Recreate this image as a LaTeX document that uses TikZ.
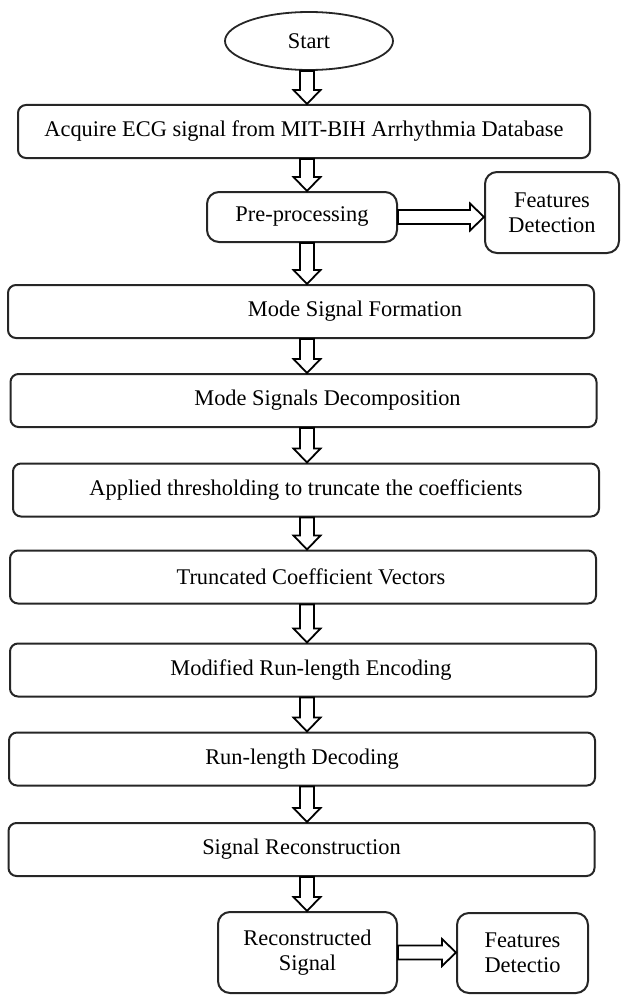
\documentclass[tikz,border=0pt]{standalone}
\usepackage{fontspec}
\setmainfont{Liberation Serif}
\usetikzlibrary{shapes,calc}

\begin{document}
\begin{tikzpicture} [
                x=0.5pt, y=-0.5pt,
                font=\fontsize{11.2}{12.5}\selectfont,
                boxline/.style = {draw=black!85},
                terminal/.style = {ellipse, boxline, line width=0.9pt, minimum width=84pt, minimum height=29pt, inner sep=0pt},
                process/.style = {rectangle, rounded corners=4pt, boxline, line width=1pt, minimum width=293pt, minimum height=26.5pt, inner sep=0pt},
                small process/.style = {process, rounded corners=6pt, align=center},
                hollow arrow/.style = {draw=black, fill=white, line width=0.9pt},
                down arrow/.style = {hollow arrow,
                    to path={let \p1=(\tikztostart), \p2=(\tikztotarget) in
                    (\x1-3.5pt,\y1) -- (\x1-3.5pt,\y2+7pt) -- (\x1-6.75pt,\y2+7pt) -- (\x1,\y2)
                    -- (\x1+6.75pt,\y2+7pt) -- (\x1+3.5pt,\y2+7pt) -- (\x1+3.5pt,\y1) -- cycle}},
                right arrow/.style = {hollow arrow,
                    to path={let \p1=(\tikztostart), \p2=(\tikztotarget) in
                    (\x1,\y1-3.5pt) -- (\x2-7pt,\y1-3.5pt) -- (\x2-7pt,\y1-6.75pt) -- (\x2,\y1)
                    -- (\x2-7pt,\y1+6.75pt) -- (\x2-7pt,\y1+3.5pt) -- (\x1,\y1+3.5pt) -- cycle}}
            ]
            \useasboundingbox (0,0) rectangle (621,995);
        % First we draw the start and the top steps
            \node[terminal] (start) at (309,41) {Start};
            \node[process, minimum width=286pt] (acquire) at (304,131.5) {Acquire ECG signal from MIT-BIH Arrhythmia Database};
            \node[small process, minimum width=95pt, minimum height=25pt] (pre) at (302,217) {Pre-processing};
            \node[small process, minimum width=67pt, minimum height=40.5pt] (feat1) at (552,212.5) {Features\\Detection};
        % The wide steps of the main column
            \foreach \pos/\name/\txt in {
                {(301,311.5)/msf/{\hspace*{54pt}Mode Signal Formation}},
                {(303.5,400.5)/msd/{\hspace*{24pt}Mode Signals Decomposition}},
                {(306,490)/thresh/{Applied thresholding to truncate the coefficients}},
                {(303,577)/trunc/{\hspace*{8pt}Truncated Coefficient Vectors}},
                {(303,670)/mrle/{\hspace*{8pt}Modified Run-length Encoding}},
                {(302,759)/rld/{Run-length Decoding}},
            {(301.5,849.5)/sr/{Signal Reconstruction}}}
            \node[process] (\name) at \pos {\txt};
        % The bottom steps
            \node[small process, minimum width=89.5pt, minimum height=40.5pt] (recon) at (307.5,952.5) {Reconstructed\\Signal};
            \node[small process, minimum width=65.5pt, minimum height=40pt] (feat2) at (522.5,953) {Features\\Detectio};
        % Connect the steps with hollow arrows
            \coordinate (spine) at (307,0);
            \foreach \source/\dest in {start/acquire, acquire/pre, pre/msf, msf/msd, msd/thresh,
            thresh/trunc, trunc/mrle, mrle/rld, rld/sr, sr/recon}
            \path[down arrow] (\source.south -| spine) to (\dest.north -| spine);
            \foreach \source/\dest in {pre/feat1, recon/feat2}
            \path[right arrow] (\source.east) to (\dest.west |- \source.east);
        \end{tikzpicture}
\end{document}
